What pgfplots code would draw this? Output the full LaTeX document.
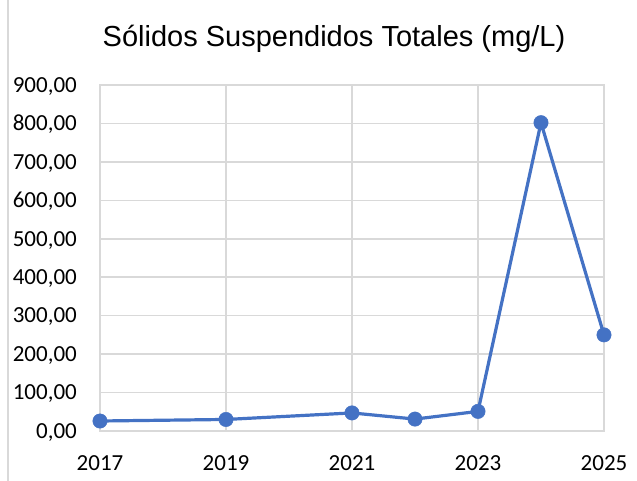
\documentclass[border=0pt]{standalone}
\usepackage{pgfplots}
\pgfplotsset{compat=1.18}
\usepackage{fontspec}
\setmainfont{Carlito}
\newfontfamily\arialfont{Liberation Sans}
\definecolor{lineblue}{HTML}{4472C4}
\definecolor{gridgray}{HTML}{D9D9D9}
\begin{document}
\begin{tikzpicture}
\useasboundingbox (-100bp,-50bp) rectangle (537bp,431bp);
\draw[gridgray, line width=1.5bp] (-92bp,-50bp) -- (-92bp,431bp);
\begin{axis}[
  at={(0,0)}, anchor=south west,
  scale only axis, width=504bp, height=346bp,
  xmin=2017, xmax=2025, ymin=0, ymax=900,
  xtick={2017,2019,2021,2023,2025},
  xticklabels={2017,2019,2021,2023,2025},
  ytick={0,100,...,900},
  yticklabel={\pgfmathprintnumber[fixed,fixed zerofill,precision=2,use comma,1000 sep={}]{\tick}},
  /pgf/number format/assume math mode=true,
  grid=major,
  major grid style={gridgray, line width=1.5bp},
  axis line style={gridgray, line width=1.5bp},
  major tick length=0pt,
  tick style={draw=none},
  ticklabel style={font=\fontsize{23bp}{27bp}\selectfont, text=black},
  yticklabel style={anchor=base east, inner sep=0pt, xshift=-23bp, yshift=-7.3bp},
  xticklabel style={anchor=north, inner sep=0pt, yshift=-24bp},
  title={\arialfont\fontsize{29bp}{33bp}\selectfont Sólidos Suspendidos Totales (mg/L)},
  title style={at={(axis description cs:0.5,1)}, anchor=base, inner sep=0pt, yshift=32.7bp, xshift=-18bp},
]
\addplot[lineblue, line width=3.2bp, mark=*, mark size=7.2bp, mark options={fill=lineblue, draw=lineblue, line width=0.5bp, solid}]
  coordinates {(2017,26) (2019,30) (2021,47) (2022,31) (2023,51) (2024,802) (2025,250)};
\end{axis}
\end{tikzpicture}
\end{document}
